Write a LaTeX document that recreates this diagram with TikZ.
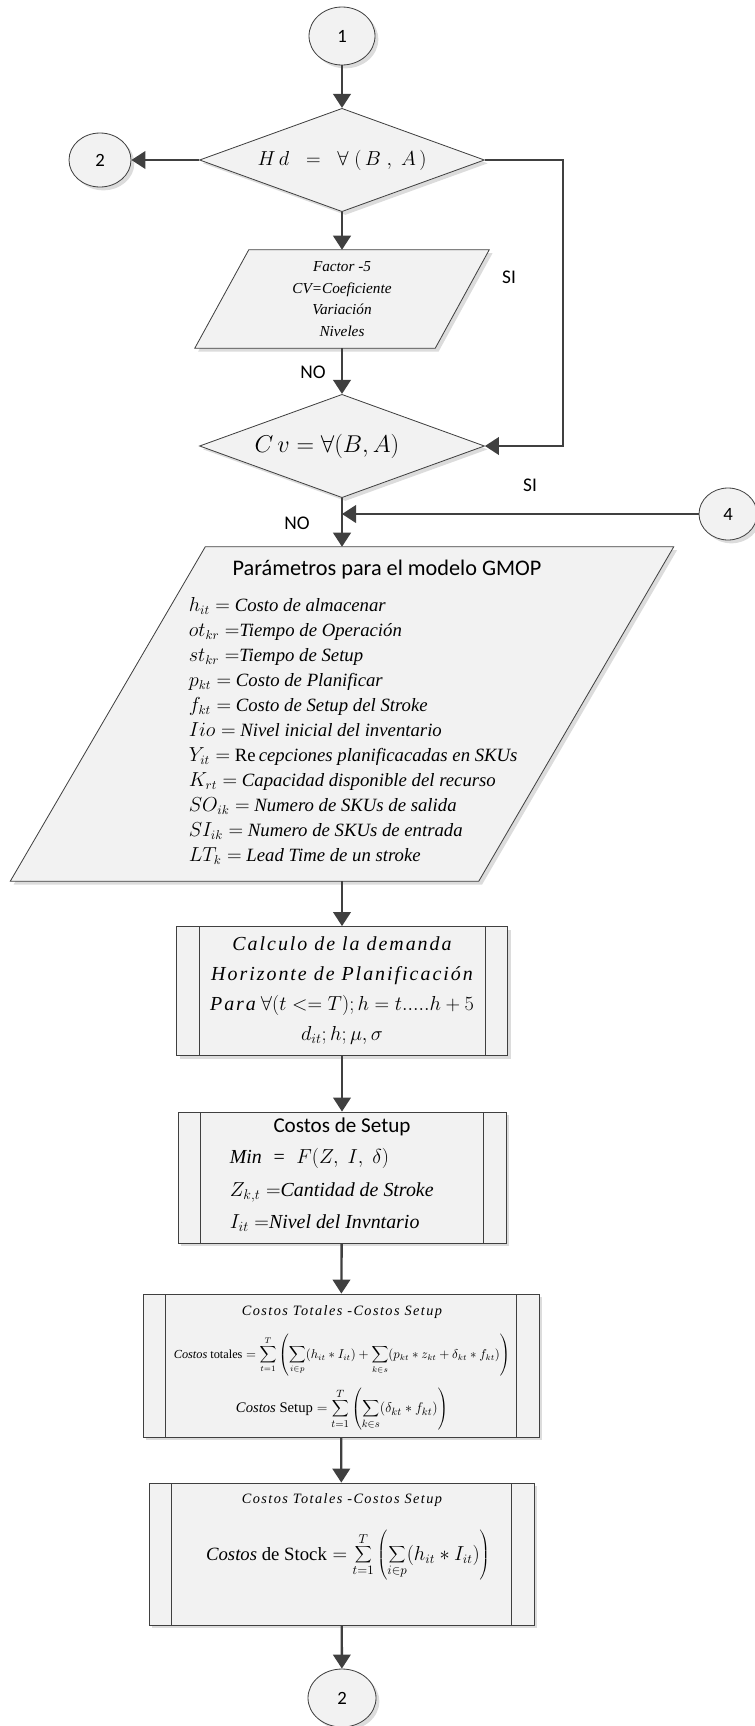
\documentclass[tikz,border=0pt]{standalone}
\usepackage{fontspec}
\setmainfont{Liberation Serif}
\newfontfamily\labelfont{Carlito}
\newfontfamily\spacedfont[LetterSpace=10]{Liberation Serif}
\usetikzlibrary{shapes.geometric,arrows.meta,shadows,backgrounds,calc}
\definecolor{FlowLine}{HTML}{404040}
\definecolor{FlowFill}{HTML}{F2F2F2}
\definecolor{FlowShade}{HTML}{DCDCDC}

\tikzset{
  shape base/.style={draw=FlowLine, line width=0.7pt, fill=FlowFill,
    drop shadow={shadow xshift=1mm, shadow yshift=-1mm, fill=FlowShade, opacity=1}},
  connector/.style={ellipse, shape base, inner sep=0pt,
    minimum width=18.6mm, minimum height=16.2mm,
    font=\labelfont\fontsize{16}{16}\selectfont},
  decision/.style={diamond, shape base, inner sep=0pt, aspect=2.74,
    minimum width=85.5mm, minimum height=31mm},
  iobody/.style={rectangle, inner sep=0pt, align=center},
  procbox/.style={rectangle, shape base, inner sep=0pt,
    path picture={\draw[FlowLine, line width=0.8pt]
      ([xshift=6.75mm]path picture bounding box.north west) -- ([xshift=6.75mm]path picture bounding box.south west)
      ([xshift=-6.75mm]path picture bounding box.north east) -- ([xshift=-6.75mm]path picture bounding box.south east);}},
  textnode/.style={inner sep=0.5pt},
  flowarrow/.style={draw=FlowLine, line width=2pt, -{Triangle[length=12pt,width=15pt]}},
  answer/.style={textnode, font=\labelfont\fontsize{16.5}{16.5}\selectfont}
}

\begin{document}
\begin{tikzpicture}[x=0.3mm,y=-0.3mm]
\useasboundingbox (0,0) rectangle (755,1726);

% upper decisions
\node[connector, minimum width=19.8mm, minimum height=17.4mm] (c1) at (342,36) {1};
\node[decision, font=\fontsize{17}{17}\selectfont] (d1) at (342,160) {$H\,d\;\;=\;\;\forall\;(\,B\;,\;A\,)$};
\node[connector] (c2a) at (100,160) {2};
\node[iobody, minimum width=72mm, minimum height=29.4mm, font=\fontsize{13}{18.5}\selectfont\itshape] (p1) at (342,299)
  {Factor -5\\CV=Coeficiente\\Variación\\Niveles};
\node[decision, font=\fontsize{21.5}{21.5}\selectfont] (d2) at (342,446) {\hspace*{-9mm}$C\,v=\forall(B,A)$};
\node[connector, minimum width=17.4mm, minimum height=15.6mm] (c4) at (728,514) {4};

\node[answer] (si1) at (509,277) {SI};
\node[answer] (no1) at (313,372) {NO};
\node[answer] (si2) at (530,485) {SI};
\node[answer] (no2) at (297,523) {NO};

% model parameters
\node[iobody, minimum width=140.4mm, minimum height=100.2mm] (p2) at (342,714) {};
\node[textnode, font=\labelfont\fontsize{19}{19}\selectfont] (p2title) at (387,570) {Parámetros para el modelo GMOP};
\node[textnode, anchor=west, align=left, font=\fontsize{16}{21.3}\selectfont\itshape] (p2list) at (188,731)
  {$h_{it}=$ Costo de almacenar\\
   $ot_{kr}=$Tiempo de Operación\\
   $st_{kr}=$Tiempo de Setup\\
   $p_{kt}=$ Costo de Planificar\\
   $f_{kt}=$ Costo de Setup del Stroke\\
   $Iio=$ Nivel inicial del inventario\\
   $Y_{it}=$ {\upshape Re}\,cepciones planificacadas en SKUs\\
   $K_{rt}=$ Capacidad disponible del recurso\\
   $SO_{ik}=$ Numero de SKUs de salida\\
   $SI_{ik}=$ Numero de SKUs de entrada\\
   $LT_{k}=$ Lead Time de un stroke};

\begin{scope}[on background layer]
\draw[shape base] ($(p1.south west)+(-27,0)$) -- ($(p1.south east)+(-27,0)$)
  -- ($(p1.north east)+(27,0)$) -- ($(p1.north west)+(27,0)$) -- cycle;
\draw[shape base] ($(p2.south west)+(-97.5,0)$) -- ($(p2.south east)+(-97.5,0)$)
  -- ($(p2.north east)+(97.5,0)$) -- ($(p2.north west)+(97.5,0)$) -- cycle;
\end{scope}

% demand and costs
\node[procbox, minimum width=99.3mm, minimum height=38.7mm, align=center, font=\fontsize{17}{25.6}\selectfont] (b3) at (342,991)
  {{\spacedfont\itshape Calculo de la demanda}\\
   {\spacedfont\itshape Horizonte de Planificación}\\
   {\spacedfont\itshape Para} $\forall(t<=T);h=t.....h+5$\\
   $d_{it};h;\mu,\sigma$};

\node[procbox, minimum width=98.4mm, minimum height=39.3mm] (b4) at (342,1177.5) {};
\node[textnode, font=\labelfont\fontsize{18}{18}\selectfont] (b4title) at (342,1127) {Costos de Setup};
\node[textnode, anchor=west, align=left, font=\fontsize{17}{27.5}\selectfont\itshape] (b4body) at (229,1190)
  {Min \;=\; $F(Z,\;I,\;\delta)$\\
   $Z_{k,t}=$Cantidad de Stroke\\
   $I_{it}=$Nivel del Invntario};

\node[procbox, minimum width=118.8mm, minimum height=42.9mm] (b5) at (341,1365.5) {};
\node[textnode, font=\fontsize{12.2}{12.2}\selectfont\spacedfont\itshape] (b5title) at (342,1312) {Costos Totales -Costos Setup};
\node[textnode, font=\fontsize{10.5}{10.5}\selectfont] (b5total) at (342,1355)
  {$\displaystyle\textit{Costos}\ \textup{totales}=\sum_{t=1}^{T}\left(\sum_{i\in p}(h_{it}*I_{it})+\sum_{k\in s}(p_{kt}*z_{kt}+\delta_{kt}*f_{kt})\right)$};
\node[textnode, font=\fontsize{12.5}{12.5}\selectfont] (b5setup) at (342,1409)
  {$\displaystyle\textit{Costos}\ \textup{Setup}=\sum_{t=1}^{T}\left(\sum_{k\in s}(\delta_{kt}*f_{kt})\right)$};

\node[procbox, minimum width=115.5mm, minimum height=42.6mm] (b6) at (341.5,1554) {};
\node[textnode, font=\fontsize{12.2}{12.2}\selectfont\spacedfont\itshape] (b6title) at (342,1500) {Costos Totales -Costos Setup};
\node[textnode, font=\fontsize{16}{16}\selectfont] (b6stock) at (348,1555)
  {$\displaystyle\textit{Costos}\ \textup{de Stock}=\sum_{t=1}^{T}\left(\sum_{i\in p}(h_{it}*I_{it})\right)$};

\node[connector, minimum width=20.4mm, minimum height=17.4mm] (c2b) at (342,1698) {2};

% flow lines
\draw[flowarrow] (c1) -- (d1);
\draw[flowarrow] (d1) -- (c2a);
\draw[flowarrow] (d1.east) -- ++(78,0) |- (d2.east);
\draw[flowarrow] (d1) -- (p1);
\draw[flowarrow] (p1) -- (d2);
\draw[flowarrow] (d2) -- (p2);
\draw[flowarrow] (c4) -- (d2.south |- c4.west);
\draw[flowarrow] (p2) -- (b3);
\draw[flowarrow] (b3) -- (b4);
\draw[flowarrow] (b4) -- (b5);
\draw[flowarrow] (b5) -- (b6);
\draw[flowarrow] (b6) -- (c2b);
\end{tikzpicture}
\end{document}
